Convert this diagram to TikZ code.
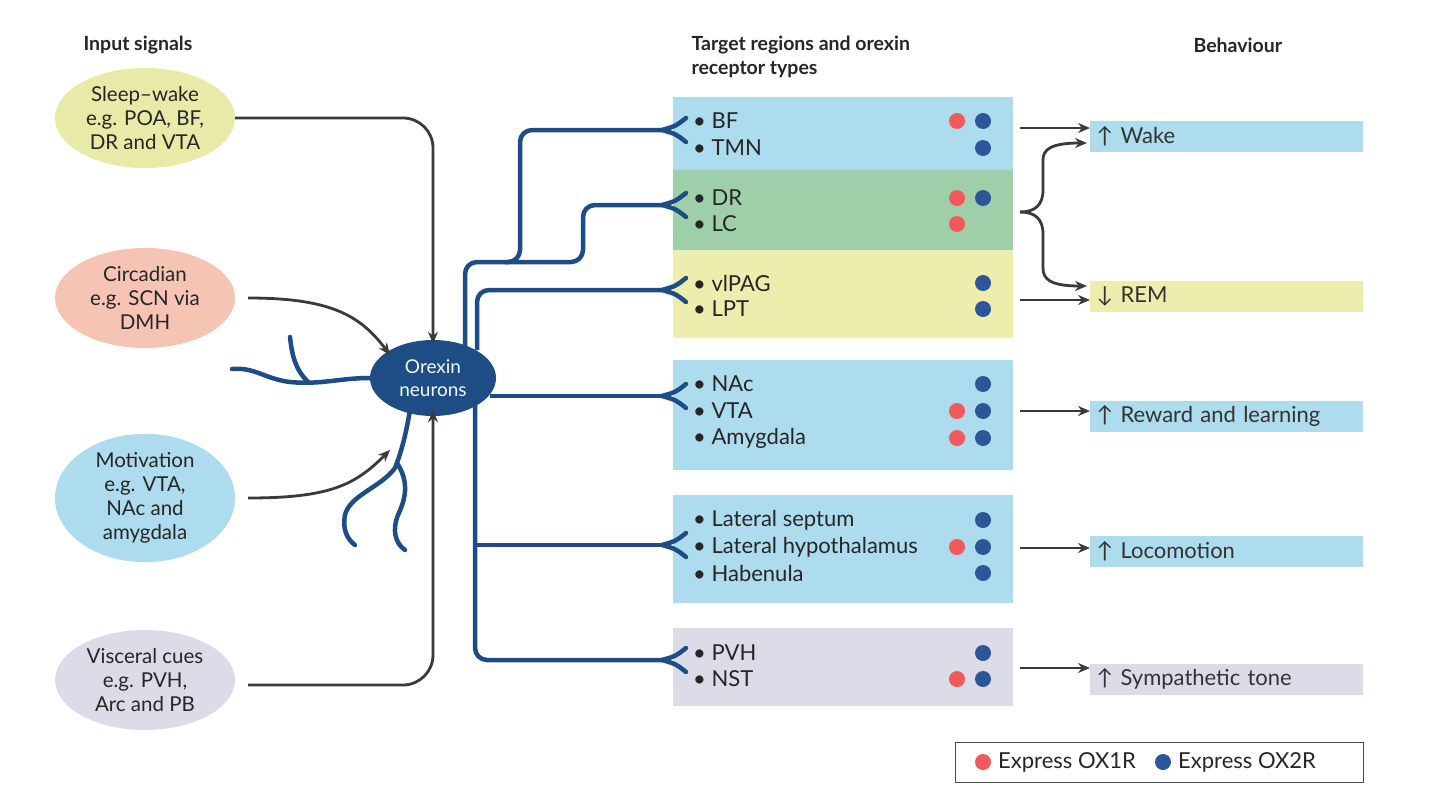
\documentclass[tikz,border=0pt]{standalone}
\usepackage{fontspec}
\setmainfont{Lato}
\usetikzlibrary{arrows.meta,shapes.geometric}
\definecolor{nb}{HTML}{1E4D86}
\definecolor{cb}{HTML}{ADDCEE}
\definecolor{cg}{HTML}{9FCFA8}
\definecolor{cy}{HTML}{EDEDAE}
\definecolor{cl}{HTML}{DCDCE8}
\definecolor{cs}{HTML}{F6C4B5}
\definecolor{cye}{HTML}{E8EBA8}
\definecolor{rd}{HTML}{F15A5A}
\definecolor{bd}{HTML}{2E5597}
\definecolor{ar}{HTML}{3A3A3A}
\begin{document}
\begin{tikzpicture}[x=1pt,y=-1pt,
  txt/.style={font=\fontsize{20.5}{24}\selectfont,text=black!85},
  rtxt/.style={font=\fontsize{22}{24}\selectfont,text=black!85},
  ttl/.style={font=\bfseries\fontsize{19.5}{24}\selectfont,text=black!85,align=left},
  inp/.style={ellipse,minimum width=180pt,minimum height=100pt,align=center,txt,inner sep=0pt},
  reg/.style={draw=none,minimum width=340pt,anchor=north west,inner sep=0pt},
  beh/.style={minimum height=31pt,text width=260pt,align=left,anchor=west,inner xsep=6.5pt,inner ysep=0pt,rtxt,text=black!80},
  row/.style={anchor=west,rtxt,inner sep=0pt},
  rdot/.style={circle,fill=rd,minimum size=16pt,inner sep=0pt},
  bdot/.style={circle,fill=bd,minimum size=16pt,inner sep=0pt},
  axon/.style={nb,line width=4.5pt,rounded corners=12pt},
  fork/.style={nb,line width=4.5pt,line cap=round},
  arr/.style={ar,line width=2.8pt,-{Stealth[length=12pt,width=10pt]}},
  ]
\fill[white] (0,0) rectangle (1455,800);
% titles
\node[ttl,anchor=west] (t1) at (80,45) {Input signals};
\node[ttl,anchor=north west] (t2) at (688,32) {Target regions and orexin\\receptor types};
\node[ttl,anchor=west] (t3) at (1190,45) {Behaviour};
% inputs
\node[inp,fill=cye] (i1) at (145,118) {Sleep–wake\\e.g. POA, BF,\\DR and VTA};
\node[inp,fill=cs] (i2) at (145,298) {Circadian\\e.g. SCN via\\DMH};
\node[inp,fill=cb] (i3) at (145,498) {Motivation\\e.g. VTA,\\NAc and\\amygdala};
\node[inp,fill=cl] (i4) at (145,680) {Visceral cues\\e.g. PVH,\\Arc and PB};
% region boxes
\node[reg,fill=cb,minimum height=73pt] (r1) at (673,97) {};
\node[reg,fill=cg,minimum height=80pt] (r2) at (673,170) {};
\node[reg,fill=cy,minimum height=88pt] (r3) at (673,250) {};
\node[reg,fill=cb,minimum height=110pt] (r4) at (673,360) {};
\node[reg,fill=cb,minimum height=108pt] (r5) at (673,495) {};
\node[reg,fill=cl,minimum height=78pt] (r6) at (673,628) {};
% rows
\foreach \n/\y/\t in {bf/121/BF,tmn/148/TMN,dr/198/DR,lc/224/LC,pag/283/vlPAG,lpt/309/LPT,
  nac/384/NAc,vta/411/VTA,amy/438/Amygdala,ls/520/Lateral septum,lh/547/Lateral hypothalamus,
  hab/573/Habenula,pvh/653/PVH,nst/679/NST}
  \node[row] (\n) at (693,\y) {• \t};
\foreach \y in {121,198,224,411,438,547,679} \node[rdot] at (957,\y) {};
\foreach \y in {121,148,198,283,309,384,411,438,520,547,573,653,679} \node[bdot] at (983,\y) {};
% behaviour
\node[beh,fill=cb] (b1) at (1090,136) {↑ Wake};
\node[beh,fill=cy] (b2) at (1090,296) {↓ REM};
\node[beh,fill=cb] (b3) at (1090,416) {↑ Reward and learning};
\node[beh,fill=cb] (b4) at (1090,551) {↑ Locomotion};
\node[beh,fill=cl] (b5) at (1090,679) {↑ Sympathetic tone};
% behaviour arrows
\coordinate (a1) at (1020,128); \coordinate (a2) at (1020,212);
\coordinate (a3) at (1020,300); \coordinate (a4) at (1020,411);
\coordinate (a5) at (1020,548); \coordinate (a6) at (1020,668);
\draw[arr] (a1) -- (b1.west |- a1);
\draw[arr] (a3) -- (b2.west |- a3);
\draw[arr] (a4) -- (b3.west |- a4);
\draw[arr] (a5) -- (b4.west |- a5);
\draw[arr] (a6) -- (b5.west |- a6);
\coordinate (w2) at (1087,143); \coordinate (r2e) at (1087,286);
\draw[arr] (a2) .. controls (1035,212) and (1043,205) .. (1043,190) -- (1043,160) .. controls (1043,150) and (1050,143) .. (w2);
\draw[arr] (a2) .. controls (1035,212) and (1043,219) .. (1043,234) -- (1043,268) .. controls (1043,279) and (1050,286) .. (r2e);
% orexin neuron
\node[ellipse,fill=nb,minimum width=126pt,minimum height=76pt,align=center,
  font=\fontsize{19}{23}\selectfont,text=white!85!cb,inner sep=0pt] (orx) at (433,378) {Orexin\\neurons};
% dendrites
\draw[nb,line width=4.5pt,line cap=round] (orx.west) .. controls (340,378) and (320,385) .. (290,382)
  .. controls (265,379) and (255,367) .. (232,369);
\draw[nb,line width=4.5pt,line cap=round] (308,382) .. controls (295,369) and (292,355) .. (290,337);
\draw[nb,line width=4.5pt,line cap=round] (410,410) .. controls (405,440) and (400,455) .. (395,468)
  .. controls (380,488) and (350,495) .. (345,515) .. controls (342,530) and (348,540) .. (355,545);
\draw[nb,line width=4.5pt,line cap=round] (397,463) .. controls (410,483) and (405,500) .. (398,515)
  .. controls (392,530) and (395,543) .. (405,550);
% forks
\foreach \n/\y in {f1/130,f2/205,f3/290,f4/396,f5/545,f6/660}{
  \coordinate (\n) at (662,\y);
  \draw[fork] (686,\y-12) .. controls (676,\y-4) .. (\n) .. controls (676,\y+4) .. (686,\y+12);}
% axons
\draw[axon] (465,350) -- (465,262) -- (520,262) -- (520,130) -- (f1);
\draw[axon] (505,262) -- (583,262) -- (583,205) -- (f2);
\draw[axon] (477,350) -- (477,290) -- (f3);
\draw[axon] (490,396) -- (f4);
\draw[axon] (475,405) -- (475,660) -- (f6);
\draw[axon] (475,545) -- (f5);
% input arrows
\draw[arr,rounded corners=30pt] (i1.east |- 0,118) -- (433,118) -- ([yshift=-4pt]orx.north);
\draw[arr] (248,298) .. controls (330,298) and (360,315) .. (390,355);
\draw[arr] (248,498) .. controls (330,498) and (355,485) .. (390,450);
\draw[arr,rounded corners=30pt] (248,685) -- (433,685) -- ([yshift=6pt]orx.south);
% legend
\node[draw=black!70,line width=1pt,minimum width=408pt,minimum height=40pt,anchor=west,inner sep=0pt] (leg) at (955,762) {};
\node[rdot] (l1) at (983,762) {};
\node[row,anchor=west] (l1t) at (998,762) {Express OX1R};
\node[bdot] (l2) at (1163,762) {};
\node[row,anchor=west] (l2t) at (1178,762) {Express OX2R};
\end{tikzpicture}
\end{document}
